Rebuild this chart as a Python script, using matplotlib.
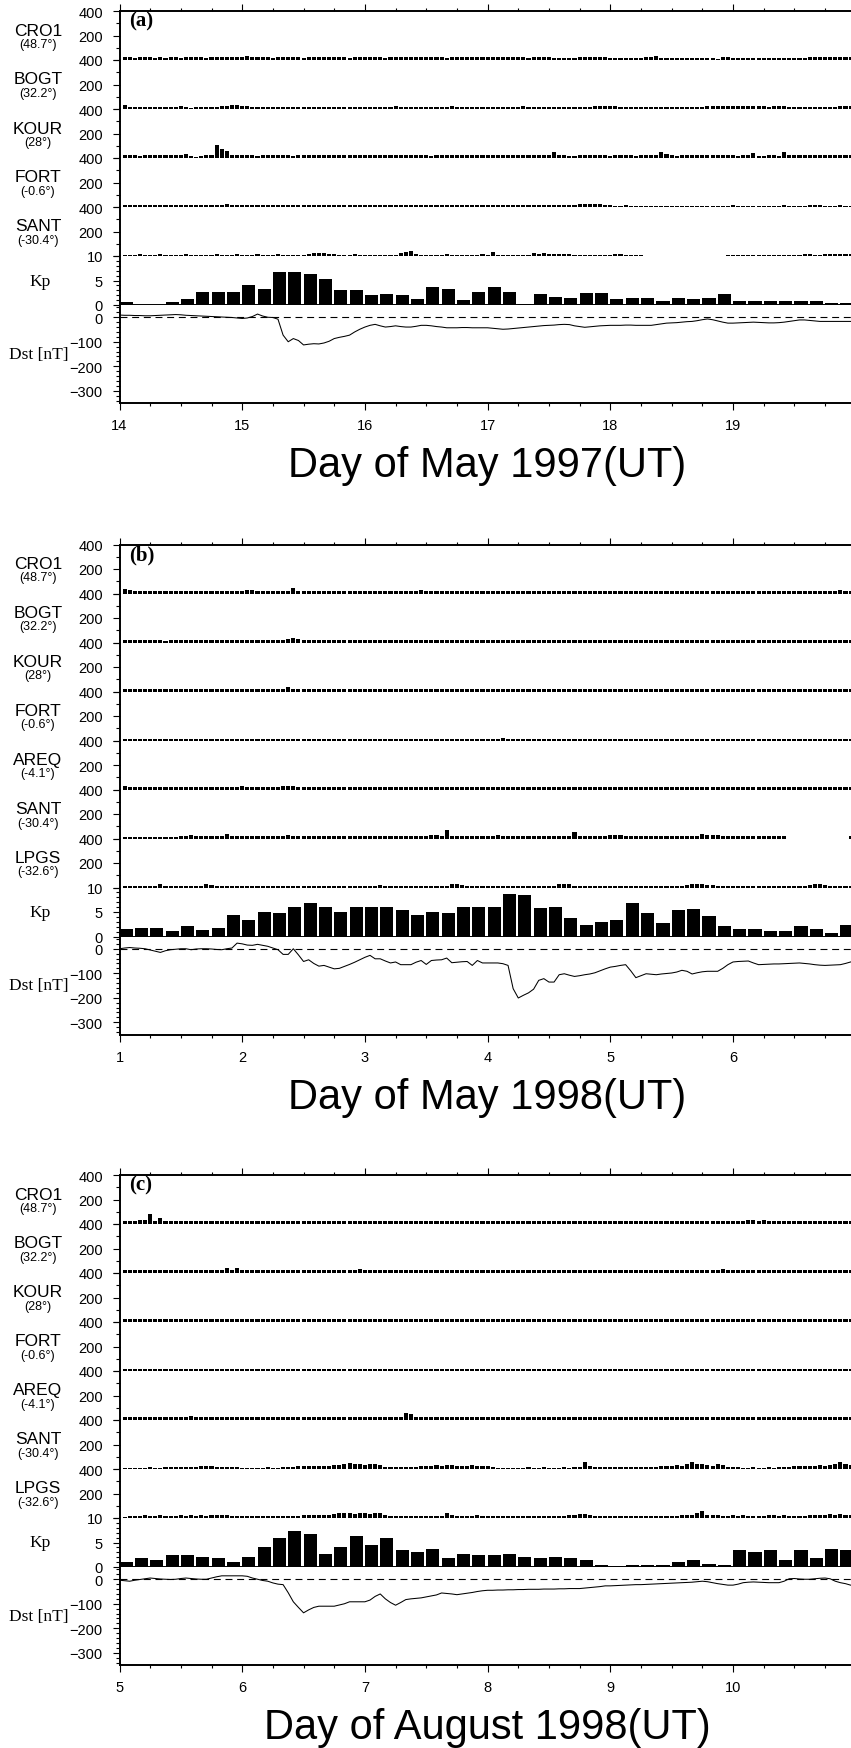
import numpy as np
import matplotlib

matplotlib.use("Agg")
import matplotlib.pyplot as plt
from matplotlib.ticker import FixedLocator, MultipleLocator

plt.rcParams["lines.scale_dashes"] = False

# ---------------------------------------------------------------- data
# hourly bar values (one value per hour, 6 days), None = no data
N = None

A_CRO1 = [22, 22, 16, 22, 22, 22, 16, 22, 14, 22, 22, 16, 22, 22, 22, 22, 16, 27, 22, 22, 22, 27, 27, 22,
          30, 27, 22, 22, 22, 16, 22, 22, 22, 22, 22, 16, 22, 22, 22, 22, 22, 22, 22, 22, 16, 22, 22, 22,
          22, 22, 22, 16, 22, 22, 22, 22, 22, 22, 22, 27, 22, 22, 22, 16, 22, 22, 22, 22, 22, 22, 22, 22,
          22, 22, 22, 27, 22, 22, 22, 16, 22, 22, 22, 22, 16, 16, 13, 16, 16, 21, 21, 21, 21, 21, 21, 13,
          13, 16, 13, 16, 13, 16, 21, 21, 32, 16, 16, 16, 16, 13, 13, 16, 16, 16, 16, 16, 5, 21, 21, 16,
          16, 16, 13, 16, 13, 16, 16, 16, 16, 16, 16, 16, 16, 16, 21, 21, 21, 21, 21, 21, 21, 21, 21, 21]
A_BOGT = [32, 16, 16, 16, 16, 16, 16, 16, 16, 16, 16, 27, 13, 5, 16, 16, 16, 16, 16, 21, 21, 32, 32, 21,
          21, 16, 13, 13, 13, 16, 16, 16, 16, 16, 16, 16, 16, 16, 16, 16, 16, 16, 16, 16, 16, 16, 16, 16,
          16, 16, 16, 16, 16, 21, 16, 16, 16, 16, 16, 16, 16, 16, 16, 16, 21, 16, 16, 16, 16, 16, 16, 16,
          16, 16, 16, 16, 16, 16, 21, 16, 16, 16, 16, 16, 13, 13, 16, 13, 16, 16, 16, 16, 21, 21, 27, 27,
          21, 13, 16, 16, 16, 13, 16, 16, 16, 16, 16, 16, 16, 16, 13, 16, 13, 16, 21, 21, 21, 21, 21, 21,
          21, 21, 27, 21, 21, 21, 16, 21, 21, 21, 16, 16, 16, 16, 16, 16, 13, 16, 16, 16, 21, 21, 21, 16]
A_KOUR = [22, 22, 22, 13, 22, 22, 22, 22, 22, 22, 22, 22, 33, 13, 5, 16, 22, 27, 110, 75, 55, 27, 22, 22,
          22, 22, 16, 22, 22, 22, 22, 22, 22, 16, 22, 22, 22, 22, 22, 22, 22, 27, 22, 22, 22, 22, 22, 22,
          22, 22, 22, 22, 22, 27, 22, 22, 22, 22, 22, 22, 16, 22, 22, 22, 22, 22, 22, 22, 22, 22, 22, 22,
          22, 22, 22, 22, 27, 22, 22, 22, 22, 22, 22, 22, 48, 27, 21, 16, 16, 21, 21, 21, 21, 21, 21, 16,
          21, 21, 21, 21, 16, 21, 21, 21, 21, 48, 32, 21, 16, 21, 21, 21, 21, 21, 21, 27, 21, 21, 21, 21,
          13, 21, 21, 40, 16, 16, 21, 21, 16, 48, 21, 21, 21, 21, 21, 21, 21, 21, 21, 21, 21, 21, 21, 21]
A_FORT = [13, 13, 13, 13, 13, 13, 13, 13, 13, 13, 13, 13, 13, 13, 16, 16, 16, 16, 16, 16, 21, 16, 16, 16,
          16, 13, 13, 13, 13, 13, 13, 13, 13, 13, 13, 13, 13, 13, 13, 13, 13, 13, 13, 13, 13, 13, 13, 13,
          13, 13, 13, 13, 13, 16, 13, 13, 13, 13, 13, 13, 13, 13, 13, 13, 13, 13, 13, 13, 13, 13, 13, 13,
          13, 13, 13, 13, 13, 13, 13, 13, 13, 13, 13, 13, 16, 16, 16, 16, 16, 21, 21, 21, 27, 21, 16, 16,
          8, 8, 13, 8, 8, 8, 8, 8, 8, 8, 8, 8, 8, 8, 8, 8, 8, 8, 8, 8, 8, 8, 8, 13,
          8, 8, 8, 8, 8, 8, 8, 8, 8, 13, 8, 8, 8, 8, 13, 13, 13, 8, 8, 8, 13, 8, 8, 8]
A_SANT = [10, 10, 10, 13, 10, 10, 10, 13, 10, 10, 10, 10, 13, 10, 10, 10, 10, 10, 13, 10, 10, 10, 13, 10,
          10, 10, 13, 10, 10, 10, 13, 10, 10, 10, 10, 10, 16, 21, 25, 21, 16, 13, 10, 10, 10, 13, 10, 10,
          10, 10, 10, 10, 10, 10, 27, 33, 40, 13, 10, 10, 10, 10, 10, 13, 10, 10, 10, 10, 10, 10, 13, 10,
          35, 10, 10, 10, 10, 10, 10, 10, 25, 13, 25, 16, 16, 16, 13, 16, 10, 10, 10, 10, 10, 10, 10, 10,
          13, 13, 10, 10, 10, 10, N, N, N, N, N, N, N, N, N, N, N, N, N, N, N, N, 10, 10,
          10, 10, 10, 10, 10, 10, 10, 10, 10, 10, 10, 10, 10, 13, 13, 10, 10, 13, 13, 16, 13, 13, 16, 30]

B_CRO1 = [35, 27, 21, 21, 21, 21, 21, 21, 21, 21, 21, 21, 21, 21, 21, 21, 24, 24, 24, 21, 21, 21, 21, 24,
          27, 30, 24, 24, 21, 21, 21, 24, 24, 45, 24, 21, 21, 21, 21, 21, 21, 21, 21, 21, 24, 24, 21, 21,
          21, 21, 21, 21, 21, 21, 24, 21, 21, 24, 32, 21, 21, 21, 21, 21, 21, 24, 21, 21, 21, 21, 21, 21,
          21, 21, 21, 21, 24, 21, 21, 21, 21, 21, 21, 21, 21, 21, 21, 21, 21, 21, 21, 21, 21, 21, 21, 24,
          21, 21, 21, 21, 21, 21, 21, 21, 21, 21, 21, 21, 21, 21, 21, 24, 24, 21, 21, 21, 21, 21, 21, 21,
          21, 21, 21, 21, 21, 21, 21, 21, 21, 24, 24, 21, 21, 21, 21, 21, 24, 21, 21, 24, 27, 21, 21, 24]
B_BOGT = [21, 21, 21, 24, 21, 21, 21, 21, 16, 21, 21, 21, 21, 21, 21, 21, 21, 24, 21, 21, 21, 21, 21, 21,
          21, 21, 21, 24, 24, 21, 21, 21, 27, 35, 30, 21, 21, 21, 21, 21, 21, 21, 21, 21, 21, 21, 21, 21,
          21, 21, 21, 21, 21, 21, 21, 21, 21, 21, 21, 24, 21, 21, 21, 21, 21, 21, 21, 21, 21, 21, 21, 21,
          21, 21, 24, 21, 24, 21, 21, 21, 21, 21, 21, 21, 21, 21, 21, 21, 21, 21, 21, 21, 21, 21, 21, 21,
          21, 21, 21, 21, 21, 21, 21, 21, 24, 21, 21, 21, 21, 21, 21, 21, 21, 21, 21, 24, 21, 21, 21, 21,
          21, 21, 21, 21, 21, 21, 21, 21, 21, 21, 21, 21, 21, 21, 21, 24, 21, 21, 21, 21, 21, 21, 24, 21]
B_KOUR = [21, 21, 21, 21, 21, 21, 21, 21, 21, 21, 21, 21, 21, 21, 24, 24, 21, 21, 21, 21, 21, 21, 21, 21,
          21, 21, 21, 21, 21, 21, 21, 24, 35, 21, 21, 21, 21, 21, 21, 21, 21, 21, 21, 21, 21, 21, 21, 21,
          21, 21, 21, 21, 21, 21, 21, 21, 21, 21, 21, 21, 21, 21, 24, 21, 21, 21, 21, 21, 21, 21, 21, 21,
          21, 21, 21, 21, 21, 21, 21, 24, 21, 21, 21, 21, 21, 21, 21, 21, 21, 21, 21, 21, 21, 21, 21, 21,
          21, 21, 21, 21, 21, 21, 21, 21, 21, 21, 21, 21, 21, 21, 21, 21, 21, 24, 21, 21, 21, 21, 21, 21,
          21, 21, 21, 21, 21, 21, 21, 21, 21, 21, 21, 21, 21, 21, 21, 21, 24, 21, 21, 21, 21, 21, 21, 21]
B_FORT = [13, 13, 13, 13, 13, 13, 13, 13, 13, 13, 13, 13, 13, 13, 13, 13, 13, 13, 13, 13, 13, 13, 13, 13,
          13, 13, 13, 16, 16, 13, 13, 13, 13, 16, 13, 13, 13, 13, 13, 13, 13, 13, 13, 13, 13, 13, 13, 13,
          13, 13, 13, 13, 13, 13, 13, 13, 13, 13, 13, 13, 13, 13, 13, 13, 13, 13, 13, 13, 13, 13, 13, 13,
          16, 16, 21, 16, 13, 13, 13, 13, 13, 13, 13, 13, 13, 13, 13, 13, 13, 13, 13, 13, 13, 13, 13, 13,
          13, 13, 13, 13, 13, 13, 13, 13, 13, 13, 13, 13, 13, 13, 13, 13, 13, 16, 13, 13, 13, 13, 13, 13,
          13, 13, 13, 13, 13, 13, 13, 13, 13, 13, 13, 13, 13, 13, 13, 13, 13, 13, 13, 13, 13, 13, 13, 13]
B_AREQ = [30, 21, 21, 21, 21, 21, 21, 21, 21, 21, 21, 21, 21, 21, 21, 21, 21, 21, 21, 21, 21, 21, 21, 27,
          21, 21, 21, 21, 21, 21, 21, 27, 30, 27, 21, 21, 21, 21, 21, 21, 21, 21, 21, 21, 21, 21, 21, 21,
          21, 21, 21, 21, 21, 21, 21, 21, 21, 21, 24, 21, 21, 21, 21, 21, 21, 21, 21, 21, 21, 21, 21, 21,
          21, 21, 21, 21, 21, 21, 21, 21, 21, 21, 21, 21, 21, 21, 21, 21, 21, 24, 21, 21, 21, 21, 21, 21,
          21, 21, 21, 21, 21, 21, 21, 21, 21, 21, 21, 21, 21, 21, 21, 21, 21, 21, 21, 21, 21, 21, 21, 21,
          21, 21, 21, 21, 21, 21, 21, 21, 21, 21, 21, 21, 21, 21, 21, 24, 21, 21, 21, 21, 21, 21, 21, 21]
B_SANT = [16, 16, 16, 16, 16, 16, 16, 16, 16, 16, 16, 21, 24, 27, 24, 21, 21, 21, 21, 21, 35, 21, 21, 21,
          21, 21, 21, 21, 21, 21, 21, 21, 30, 21, 21, 21, 21, 21, 21, 21, 21, 21, 21, 21, 21, 21, 21, 21,
          21, 21, 21, 21, 21, 21, 21, 21, 21, 21, 21, 21, 30, 30, 21, 68, 21, 21, 21, 21, 21, 21, 21, 21,
          21, 30, 21, 21, 21, 21, 21, 21, 21, 21, 21, 21, 21, 21, 21, 21, 55, 21, 21, 21, 21, 21, 21, 30,
          30, 30, 21, 21, 21, 21, 21, 21, 21, 21, 21, 21, 21, 21, 21, 21, 21, 40, 27, 30, 27, 21, 21, 21,
          21, 21, 21, 21, 21, 21, 21, 21, 21, 21, N, N, N, N, N, N, N, N, N, N, N, N, 24, 24]
B_LPGS = [16, 16, 16, 16, 16, 16, 16, 27, 16, 16, 16, 16, 16, 16, 16, 16, 27, 21, 16, 16, 16, 16, 16, 16,
          16, 16, 16, 16, 16, 16, 16, 16, 16, 16, 16, 16, 16, 16, 16, 16, 16, 16, 16, 16, 16, 16, 16, 16,
          16, 16, 21, 16, 16, 16, 16, 16, 16, 16, 16, 16, 16, 16, 16, 16, 27, 27, 21, 16, 16, 16, 16, 16,
          16, 16, 16, 16, 16, 16, 16, 16, 16, 16, 16, 16, 16, 30, 30, 27, 16, 16, 16, 16, 16, 16, 16, 16,
          16, 16, 16, 16, 16, 16, 16, 16, 16, 16, 16, 16, 16, 16, 24, 27, 30, 27, 24, 21, 16, 16, 16, 16,
          16, 16, 16, 16, 16, 16, 16, 16, 16, 16, 16, 16, 16, 16, 24, 27, 27, 24, 16, 16, 16, 16, 16, 16]

C_CRO1 = [21, 24, 24, 30, 35, 78, 27, 50, 27, 21, 21, 21, 21, 21, 21, 21, 21, 21, 21, 21, 21, 21, 21, 21,
          21, 21, 21, 21, 21, 21, 21, 21, 21, 21, 21, 21, 21, 21, 21, 21, 21, 21, 21, 21, 21, 21, 21, 21,
          21, 21, 21, 21, 21, 21, 21, 21, 21, 21, 21, 21, 21, 21, 21, 21, 21, 21, 21, 21, 21, 21, 21, 21,
          21, 21, 21, 21, 21, 21, 21, 21, 21, 21, 21, 21, 21, 21, 21, 21, 21, 21, 21, 21, 21, 21, 21, 21,
          21, 21, 21, 21, 21, 21, 21, 21, 21, 21, 21, 21, 21, 21, 21, 21, 21, 21, 21, 21, 21, 21, 21, 21,
          21, 21, 30, 30, 24, 30, 24, 21, 21, 21, 21, 21, 21, 21, 21, 21, 21, 21, 21, 21, 21, 21, 21, 21]
C_BOGT = [21, 21, 21, 21, 21, 21, 21, 21, 21, 21, 21, 21, 21, 21, 21, 21, 21, 21, 21, 21, 40, 27, 40, 27,
          21, 21, 21, 21, 21, 21, 21, 21, 21, 21, 21, 21, 21, 21, 21, 21, 21, 21, 21, 21, 21, 21, 30, 24,
          21, 21, 21, 21, 21, 21, 21, 21, 21, 21, 21, 21, 21, 21, 21, 21, 21, 21, 21, 21, 21, 21, 21, 21,
          21, 21, 21, 21, 21, 21, 21, 21, 21, 21, 21, 21, 21, 21, 21, 21, 21, 21, 21, 21, 21, 21, 21, 21,
          21, 21, 21, 21, 21, 21, 21, 21, 21, 21, 21, 21, 21, 21, 21, 21, 21, 21, 21, 21, 21, 30, 24, 21,
          21, 21, 21, 21, 21, 21, 21, 21, 21, 21, 21, 21, 21, 21, 21, 21, 21, 21, 21, 21, 21, 21, 21, 21]
C_KOUR = [21, 21, 21, 21, 21, 21, 21, 21, 21, 21, 21, 21, 21, 21, 21, 21, 21, 21, 21, 21, 27, 27, 21, 21,
          21, 21, 21, 21, 21, 21, 21, 21, 21, 21, 21, 21, 21, 21, 21, 21, 21, 21, 21, 21, 21, 21, 21, 21,
          21, 21, 21, 21, 21, 21, 21, 21, 21, 21, 21, 21, 21, 21, 21, 21, 21, 21, 21, 21, 21, 21, 21, 21,
          21, 21, 21, 21, 21, 21, 21, 21, 21, 21, 21, 21, 21, 21, 21, 21, 21, 21, 21, 21, 21, 21, 21, 21,
          21, 21, 21, 21, 21, 21, 21, 21, 21, 21, 21, 21, 21, 21, 21, 21, 21, 21, 21, 21, 21, 21, 21, 21,
          21, 21, 21, 21, 21, 21, 21, 21, 21, 21, 21, 21, 21, 21, 21, 21, 21, 21, 21, 21, 21, 21, 21, 21]
C_FORT = [16, 16, 16, 16, 16, 16, 16, 16, 16, 16, 16, 16, 16, 16, 16, 16, 16, 16, 16, 16, 16, 16, 16, 16,
          16, 16, 16, 16, 16, 16, 16, 16, 16, 16, 16, 16, 16, 16, 16, 16, 16, 16, 16, 16, 16, 16, 16, 16,
          16, 16, 16, 16, 16, 16, 16, 16, 16, 16, 16, 16, 16, 16, 16, 16, 16, 16, 16, 16, 16, 16, 16, 16,
          16, 16, 16, 16, 16, 16, 16, 16, 16, 16, 16, 16, 16, 16, 16, 16, 16, 16, 16, 16, 16, 16, 16, 16,
          16, 16, 16, 16, 16, 16, 16, 16, 16, 16, 16, 16, 16, 16, 16, 16, 16, 16, 16, 16, 16, 16, 16, 16,
          16, 16, 16, 16, 16, 16, 16, 16, 16, 16, 16, 16, 16, 16, 16, 16, 16, 16, 16, 16, 16, 16, 16, 16]
C_AREQ = [21, 24, 24, 21, 21, 21, 21, 21, 21, 21, 21, 21, 21, 30, 27, 21, 21, 21, 21, 21, 21, 21, 21, 21,
          21, 21, 21, 21, 21, 21, 21, 21, 21, 21, 21, 21, 21, 21, 21, 21, 21, 21, 21, 21, 21, 21, 21, 21,
          21, 21, 21, 21, 21, 21, 21, 55, 45, 21, 21, 21, 21, 21, 21, 21, 21, 21, 21, 21, 21, 21, 21, 21,
          21, 21, 21, 21, 21, 21, 21, 21, 21, 21, 21, 21, 21, 21, 21, 21, 21, 21, 21, 21, 21, 21, 21, 21,
          21, 21, 21, 21, 21, 21, 21, 21, 21, 21, 21, 21, 21, 21, 21, 21, 21, 21, 21, 21, 21, 21, 21, 21,
          21, 21, 21, 21, 21, 21, 21, 21, 21, 21, 21, 21, 21, 21, 21, 21, 21, 21, 21, 21, 21, 21, 21, 21]
C_SANT = [10, 10, 10, 10, 10, 13, 10, 10, 13, 13, 13, 13, 13, 13, 16, 22, 22, 22, 16, 16, 16, 16, 16, 10,
          10, 10, 10, 10, 13, 10, 10, 13, 13, 16, 22, 22, 27, 22, 22, 27, 22, 33, 33, 44, 49, 38, 44, 33,
          38, 44, 33, 13, 13, 13, 13, 13, 13, 13, 22, 22, 27, 33, 27, 33, 33, 27, 22, 27, 33, 27, 22, 22,
          16, 10, 10, 10, 10, 10, 10, 13, 10, 10, 13, 10, 10, 10, 13, 10, 13, 16, 60, 27, 16, 16, 13, 13,
          13, 13, 13, 13, 16, 16, 16, 13, 16, 22, 27, 27, 33, 27, 38, 55, 44, 44, 33, 27, 38, 33, 16, 13,
          13, 10, 10, 13, 10, 10, 13, 10, 13, 16, 16, 22, 22, 27, 27, 27, 33, 27, 33, 38, 55, 44, 33, 33]
C_LPGS = [11, 16, 16, 16, 22, 16, 16, 22, 16, 16, 16, 22, 16, 22, 16, 22, 16, 22, 27, 27, 27, 16, 13, 13,
          13, 13, 13, 13, 13, 13, 13, 13, 13, 13, 13, 22, 22, 22, 22, 22, 22, 33, 38, 44, 38, 33, 44, 38,
          33, 38, 44, 22, 16, 16, 16, 16, 16, 16, 16, 16, 16, 16, 16, 38, 22, 16, 16, 16, 16, 22, 16, 16,
          16, 16, 16, 13, 16, 13, 16, 16, 16, 13, 16, 16, 13, 16, 16, 22, 22, 33, 33, 22, 16, 16, 16, 16,
          16, 16, 13, 16, 16, 16, 16, 13, 16, 16, 16, 16, 16, 22, 22, 22, 44, 55, 27, 22, 22, 16, 16, 22,
          16, 22, 16, 16, 16, 16, 22, 22, 16, 22, 16, 16, 16, 16, 22, 22, 22, 27, 33, 27, 33, 27, 27, 22]

# 3-hourly Kp
A_KP = [0.7, 0, 0, 0.7, 1.2, 2.7, 2.7, 2.7, 4.0, 3.3, 6.7, 6.7, 6.3, 5.3, 3.0, 3.0,
        2.0, 2.3, 2.0, 1.3, 3.7, 3.3, 1.0, 2.7, 3.7, 2.7, 0.3, 2.3, 1.7, 1.5, 2.5, 2.5,
        1.2, 1.5, 1.5, 0.8, 1.5, 1.2, 1.5, 2.2, 0.8, 0.8, 0.8, 0.8, 0.8, 0.8, 0.5, 0.5]
B_KP = [1.5, 1.8, 1.8, 1.1, 2.1, 1.4, 1.8, 4.4, 3.4, 5.1, 4.8, 6.1, 6.8, 6.1, 5.1, 6.1,
        6.1, 6.1, 5.4, 4.4, 5.1, 4.8, 6.1, 6.1, 6.1, 8.7, 8.4, 5.8, 6.1, 3.7, 2.4, 3.0,
        3.4, 6.8, 4.8, 2.7, 5.4, 5.7, 4.1, 2.1, 1.5, 1.5, 1.1, 1.1, 2.1, 1.5, 0.7, 2.4]
C_KP = [1.0, 1.8, 1.4, 2.4, 2.4, 2.1, 1.8, 1.1, 2.1, 4.1, 6.0, 7.4, 6.7, 2.7, 4.1, 6.4,
        4.4, 6.0, 3.4, 3.0, 3.7, 1.8, 2.7, 2.4, 2.4, 2.7, 2.1, 1.8, 2.1, 1.8, 1.4, 0.4,
        0.2, 0.4, 0.4, 0.4, 1.1, 1.4, 0.7, 0.4, 3.4, 3.0, 3.4, 1.4, 3.4, 1.8, 3.7, 3.4]

# hourly Dst (nT)
A_DST = [9, 8, 8, 7, 7, 6, 6, 7, 8, 9, 10, 11, 10, 8, 7, 6, 5, 4, 3, 2, 1, 0, -1, -3,
         -5, -3, 3, 13, 5, 0, -1, -8, -73, -100, -87, -95, -113, -110, -108, -109, -105, -98, -87, -82, -78, -73, -60, -49,
         -40, -33, -29, -35, -40, -38, -35, -38, -40, -40, -37, -33, -33, -35, -38, -40, -43, -43, -43, -42, -42, -43, -43, -43,
         -43, -45, -47, -49, -48, -46, -44, -42, -40, -38, -36, -34, -33, -32, -30, -29, -30, -35, -38, -41, -39, -37, -35, -34,
         -33, -33, -33, -32, -32, -33, -33, -33, -33, -30, -27, -24, -23, -22, -20, -18, -17, -14, -10, -7, -10, -15, -20, -24,
         -24, -23, -22, -21, -20, -21, -22, -23, -23, -22, -20, -17, -14, -11, -11, -13, -15, -17, -17, -17, -17, -17, -17, -17]
B_DST = [0, 3, 5, 3, 2, 0, -5, -10, -15, -8, -4, -2, 0, 0, -4, -1, 0, 0, -1, -3, -4, 0, 3, 23,
         20, 15, 14, 18, 14, 10, 3, -4, -23, -23, 0, -25, -52, -45, -60, -71, -68, -75, -82, -80, -72, -64, -55, -45,
         -35, -27, -41, -41, -50, -58, -54, -65, -65, -65, -55, -48, -64, -48, -46, -45, -38, -57, -55, -53, -52, -68, -48, -58,
         -58, -58, -58, -61, -68, -163, -201, -190, -180, -165, -129, -122, -136, -136, -106, -102, -108, -113, -110, -106, -103, -98, -90, -82,
         -75, -72, -68, -65, -90, -118, -110, -102, -104, -106, -103, -101, -99, -95, -88, -92, -103, -98, -94, -92, -92, -92, -80, -65,
         -54, -52, -51, -50, -58, -65, -64, -63, -62, -62, -61, -60, -59, -58, -60, -62, -65, -67, -68, -67, -66, -65, -60, -54]
C_DST = [-4, -6, -8, -4, -1, 2, 5, 3, 1, 0, -1, 0, 3, 5, 3, 1, 0, 0, 5, 10, 14, 14, 14, 14,
         14, 12, 5, 0, -5, -8, -15, -20, -22, -55, -92, -115, -137, -125, -115, -110, -110, -110, -110, -105, -100, -92, -92, -92,
         -92, -85, -70, -60, -80, -95, -106, -95, -83, -80, -78, -76, -72, -68, -64, -56, -58, -60, -63, -60, -57, -54, -50, -47,
         -45, -45, -44, -44, -43, -43, -42, -42, -41, -41, -41, -40, -40, -40, -39, -39, -38, -38, -38, -36, -34, -32, -30, -27,
         -27, -26, -25, -24, -23, -22, -22, -21, -20, -19, -18, -17, -16, -15, -14, -13, -12, -10, -8, -10, -14, -18, -21, -24,
         -24, -20, -14, -12, -11, -12, -13, -14, -14, -14, -8, 2, 3, 1, 0, 0, 2, 4, 5, 2, -8, -14, -18, -24]

A_STATIONS = [("CRO1", "(48.7°)", A_CRO1), ("BOGT", "(32.2°)", A_BOGT), ("KOUR", "(28°)", A_KOUR),
              ("FORT", "(-0.6°)", A_FORT), ("SANT", "(-30.4°)", A_SANT)]
B_STATIONS = [("CRO1", "(48.7°)", B_CRO1), ("BOGT", "(32.2°)", B_BOGT), ("KOUR", "(28°)", B_KOUR),
              ("FORT", "(-0.6°)", B_FORT), ("AREQ", "(-4.1°)", B_AREQ), ("SANT", "(-30.4°)", B_SANT),
              ("LPGS", "(-32.6°)", B_LPGS)]
C_STATIONS = [("CRO1", "(48.7°)", C_CRO1), ("BOGT", "(32.2°)", C_BOGT), ("KOUR", "(28°)", C_KOUR),
              ("FORT", "(-0.6°)", C_FORT), ("AREQ", "(-4.1°)", C_AREQ), ("SANT", "(-30.4°)", C_SANT),
              ("LPGS", "(-32.6°)", C_LPGS)]

# ---------------------------------------------------------------- layout (pixels)
W, H = 851, 1749
X_LEFT = 119.5
DAY_PX = 122.7
ROW_PX = 49.0
DST_PX = 98.0

SANS = ["Liberation Sans", "DejaVu Sans"]
SERIF = ["Liberation Serif", "DejaVu Serif"]
LW = 1.4


def add_ax(fig, top, height):
    return fig.add_axes([X_LEFT / W, 1 - (top + height) / H, 6 * DAY_PX / W, height / H])


def style_left(ax, labelsize=10.5):
    for s in ("right", "top", "bottom"):
        ax.spines[s].set_visible(False)
    ax.spines["left"].set_linewidth(LW)
    ax.tick_params(axis="y", which="major", direction="out", length=5, width=0.8,
                   labelsize=labelsize, pad=7)
    ax.tick_params(axis="y", which="minor", direction="out", length=2.8, width=0.8)
    for lab in ax.get_yticklabels():
        lab.set_family(SANS)


def draw_panel(fig, top, day0, stations, kp, dst, letter, xlabel):
    days = list(range(day0, day0 + 6))
    # station rows
    y = top
    for i, (name, lat, vals) in enumerate(stations):
        ax = add_ax(fig, y, ROW_PX)
        ax.set_xlim(day0, day0 + 6)
        ax.set_ylim(0, 400)
        t = day0 + (np.arange(len(vals)) + 1) / 24.0
        keep = [k for k, v in enumerate(vals) if v is not None]
        ax.bar(t[keep], [vals[k] for k in keep], width=0.8 / 24, color="black", linewidth=0)
        ax.yaxis.set_major_locator(FixedLocator([0, 200, 400]))
        ax.yaxis.set_minor_locator(FixedLocator([100, 300]))
        ax.set_yticklabels(["", "200", "400"])
        style_left(ax)
        if i == 0:
            ax.spines["top"].set_visible(True)
            ax.spines["top"].set_linewidth(LW)
            ax.xaxis.tick_top()
            ax.xaxis.set_major_locator(FixedLocator(days))
            ax.xaxis.set_minor_locator(MultipleLocator(0.25))
            ax.tick_params(axis="x", which="major", direction="out", length=5, width=0.8,
                           labeltop=False, labelbottom=False)
            ax.tick_params(axis="x", which="minor", direction="out", length=2.5, width=0.8)
            ax.text(0.013, 0.80, letter, transform=ax.transAxes, ha="left", va="center",
                    fontsize=15, fontweight="bold", family=SERIF)
        else:
            ax.set_xticks([])
        fig.text(38 / W, 1 - (y + 19) / H, name, ha="center", va="center",
                 fontsize=12.5, family=SANS)
        fig.text(38 / W, 1 - (y + 33) / H, lat, ha="center", va="center",
                 fontsize=9, family=SANS)
        y += ROW_PX

    # Kp
    ax = add_ax(fig, y, ROW_PX)
    ax.set_xlim(day0, day0 + 6)
    ax.set_ylim(0, 10)
    tk = day0 + np.arange(len(kp)) * 0.125
    ax.bar(tk, kp, width=0.125 * 0.86, align="edge", color="black", linewidth=0)
    ax.yaxis.set_major_locator(FixedLocator([0, 5, 10]))
    ax.yaxis.set_minor_locator(MultipleLocator(1))
    style_left(ax)
    ax.spines["bottom"].set_visible(True)
    ax.spines["bottom"].set_linewidth(LW)
    ax.xaxis.set_major_locator(FixedLocator(days))
    ax.tick_params(axis="x", which="major", direction="out", length=5, width=0.8,
                   labelbottom=False)
    fig.text(40 / W, 1 - (y + ROW_PX / 2) / H, "Kp", ha="center", va="center",
             fontsize=12.5, family=SERIF)
    y += ROW_PX

    # Dst
    ax = add_ax(fig, y, DST_PX)
    ax.set_xlim(day0, day0 + 6)
    ax.set_ylim(-350, 50)
    td = day0 + np.arange(len(dst)) / 24.0
    ax.plot(td, dst, color="black", lw=0.75)
    ax.axhline(0, color="black", lw=0.8, dashes=(5, 3.4))
    ax.yaxis.set_major_locator(FixedLocator([0, -100, -200, -300]))
    ax.yaxis.set_minor_locator(MultipleLocator(20))
    style_left(ax)
    ax.spines["bottom"].set_visible(True)
    ax.spines["bottom"].set_linewidth(LW)
    ax.xaxis.set_major_locator(FixedLocator(days))
    ax.xaxis.set_minor_locator(MultipleLocator(0.25))
    ax.set_xticklabels([str(d) for d in days])
    ax.tick_params(axis="x", which="major", direction="out", length=5, width=0.8,
                   labelsize=10.5, pad=6)
    ax.tick_params(axis="x", which="minor", direction="out", length=2.5, width=0.8)
    for lab in ax.get_xticklabels():
        lab.set_family(SANS)
    fig.text(39 / W, 1 - (y + DST_PX / 2) / H, "Dst [nT]", ha="center", va="center",
             fontsize=12.5, family=SERIF)
    y += DST_PX

    fig.text((X_LEFT + 3 * DAY_PX) / W, 1 - (y + 62) / H, xlabel, ha="center", va="center",
             fontsize=30, family=SANS)


fig = plt.figure(figsize=(W / 100, H / 100), dpi=100)
draw_panel(fig, 12, 14, A_STATIONS, A_KP, A_DST, "(a)", "Day of May 1997(UT)")
draw_panel(fig, 545.5, 1, B_STATIONS, B_KP, B_DST, "(b)", "Day of May 1998(UT)")
draw_panel(fig, 1176, 5, C_STATIONS, C_KP, C_DST, "(c)", "Day of August 1998(UT)")
fig.savefig("out.png", dpi=100)
